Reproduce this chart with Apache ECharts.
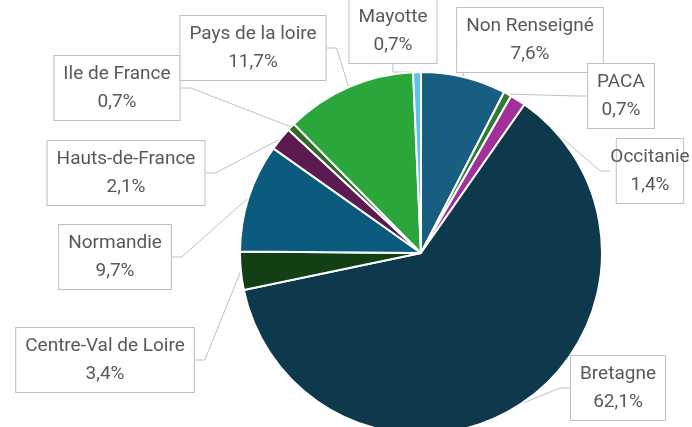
<!DOCTYPE html>
<html>
<head>
    <meta charset="utf-8">
    <title>Répartition par région</title>
    <script src="https://cdn.jsdelivr.net/npm/echarts@6/dist/echarts.min.js"></script>
</head>
<body style="margin:0;padding:0;">
<div id="main" style="width:692px;height:427px;"></div>
<script type="text/javascript">
    // données (sens horaire depuis midi)
    let regions = ['Non Renseigné', 'PACA', 'Occitanie', 'Bretagne', 'Centre-Val de Loire',
        'Normandie', 'Hauts-de-France', 'Ile de France', 'Pays de la loire', 'Mayotte'];
    let percents = [7.6, 0.7, 1.4, 62.1, 3.4, 9.7, 2.1, 0.7, 11.7, 0.7];
    let couleurs = ['#175e80', '#2e7d32', '#a1309b', '#0e394d', '#123f14',
        '#0b5b7e', '#5b1a50', '#2f6a26', '#2ba63b', '#5bc2ef'];

    // centre des étiquettes (x, y) en pixels
    let positionsEtiquettes = [[530, 40], [621, 96], [650, 171], [618, 388], [105, 360],
        [115, 257], [126, 173], [117, 88], [253, 48], [393, 31]];

    let myChart = echarts.init(document.getElementById('main'));
    let option = {
        animation: false,
        series: [
            {
                type: 'pie',
                center: [421, 253],
                radius: 181,
                startAngle: 90,
                clockwise: true,
                itemStyle: {
                    borderColor: '#ffffff',
                    borderWidth: 2
                },
                label: {
                    show: true,
                    formatter: (p) => p.name + '\n' + String(p.value).replace('.', ',') + '%',
                    fontFamily: 'Roboto, sans-serif',
                    fontSize: 19,
                    lineHeight: 28,
                    color: '#595959',
                    align: 'center',
                    overflow: 'none',
                    backgroundColor: '#ffffff',
                    borderColor: '#bfbfbf',
                    borderWidth: 1,
                    padding: [4, 9]
                },
                labelLine: {
                    show: true,
                    length: 10,
                    length2: 10,
                    lineStyle: {
                        color: '#bfbfbf',
                        width: 1
                    }
                },
                labelLayout: (params) => {
                    let pos = positionsEtiquettes[params.dataIndex];
                    return {
                        x: pos[0],
                        y: pos[1],
                        align: 'center',
                        verticalAlign: 'middle'
                    };
                },
                data: regions.map((nom, i) => ({
                    name: nom,
                    value: percents[i],
                    itemStyle: { color: couleurs[i] }
                }))
            }
        ]
    };
    myChart.setOption(option);
</script>
</body>
</html>
